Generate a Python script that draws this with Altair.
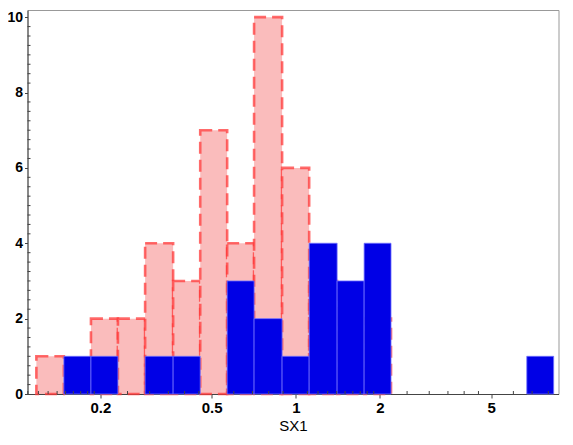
import altair as alt
import pandas as pd

# Histogram bin edges (log-spaced)
edges = [0.118, 0.148, 0.185, 0.231, 0.289, 0.364, 0.455, 0.568, 0.709, 0.893,
         1.116, 1.405, 1.755, 2.19, 2.74, 3.42, 4.28, 5.35, 6.70, 8.36]
pink_counts = [1, 0, 2, 2, 4, 3, 7, 4, 10, 6, 3, 2, 2, 0, 0, 0, 0, 0, 0]
blue_counts = [0, 1, 1, 0, 1, 1, 0, 3, 2, 1, 4, 3, 4, 0, 0, 0, 0, 0, 1]

x_ticks = [0.2, 0.5, 1, 2, 5]
x_minor = [0.11, 0.12, 0.13, 0.14, 0.15, 0.16, 0.17, 0.18, 0.19,
           0.25, 0.3, 0.35, 0.4, 0.45,
           0.6, 0.7, 0.8, 0.9,
           1.1, 1.2, 1.3, 1.4, 1.5, 1.6, 1.7, 1.8, 1.9,
           2.5, 3, 3.5, 4, 4.5, 6, 7, 8]
y_ticks = [0, 2, 4, 6, 8, 10]
y_minor = [i * 0.25 for i in range(1, 41) if (i * 0.25) % 2 != 0]

W, H = 531, 384
FONT = "Liberation Sans"

pink = pd.DataFrame({"lo": edges[:-1], "hi": edges[1:], "n": pink_counts, "z": 0})
pink = pink[pink.n > 0]
blue = pd.DataFrame({"lo": edges[:-1], "hi": edges[1:], "n": blue_counts, "z": 0})
blue = blue[blue.n > 0]
xm = pd.DataFrame({"v": x_minor})
ym = pd.DataFrame({"v": y_minor})

xscale = alt.Scale(type="log", domain=[0.1097, 8.70], nice=False)
yscale = alt.Scale(domain=[0, 10.19], nice=False, zero=True)
xaxis = alt.Axis(values=x_ticks, format="~g", title="SX1", grid=False,
                 tickSize=4, labelPadding=2, titlePadding=3,
                 labelFontSize=15)
yaxis = alt.Axis(values=y_ticks, format="d", title=None, grid=False,
                 tickSize=3, labelPadding=2, labelFontSize=14)


def X(field):
    return alt.X(f"{field}:Q", scale=xscale, axis=xaxis)


def Y(field):
    return alt.Y(f"{field}:Q", scale=yscale, axis=yaxis)


pink_layer = alt.Chart(pink).mark_rect(
    fill="#fabcbc", stroke="#ff3a3a", strokeOpacity=0.75, strokeWidth=2.6,
    strokeDash=[12, 6]
).encode(x=X("lo"), x2="hi", y=Y("n"), y2="z")

blue_layer = alt.Chart(blue).mark_rect(
    fill="#0000e6", stroke="#7070ff", strokeWidth=0.8
).encode(x=X("lo"), x2="hi", y=Y("n"), y2="z")

xminor_layer = alt.Chart(xm).mark_rule(color="#444", strokeWidth=1).encode(
    x=X("v"), y=alt.value(H), y2=alt.value(H - 3))

yminor_layer = alt.Chart(ym).mark_rule(color="#444", strokeWidth=1).encode(
    y=Y("v"), x=alt.value(0), x2=alt.value(3))

chart = alt.layer(pink_layer, blue_layer, xminor_layer, yminor_layer).properties(
    width=W, height=H,
    autosize=alt.AutoSizeParams(type="none"),
    padding={"left": 19.5, "top": 2, "right": 5, "bottom": 41},
).configure_view(stroke="#999999", strokeWidth=1).configure_axis(
    domainColor="#444444", tickColor="#444444", labelColor="black",
    labelFont=FONT, labelFontWeight="bold",
    titleFont=FONT, titleFontSize=15, titleFontWeight="normal", titleColor="black",
)

chart.save("out.html", embed_options={"renderer": "svg", "actions": False})
